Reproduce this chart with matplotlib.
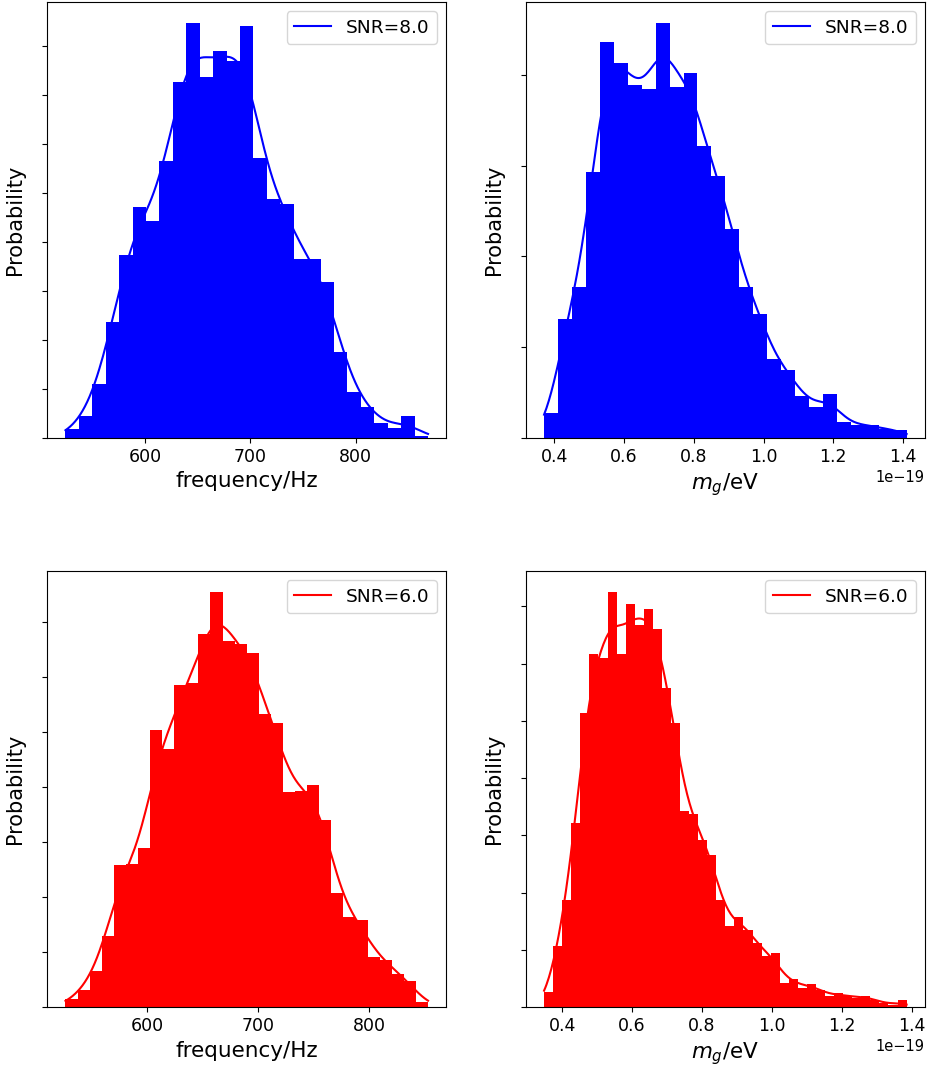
import matplotlib
matplotlib.use("Agg")
import matplotlib.pyplot as plt
import numpy as np
from matplotlib.ticker import MultipleLocator, NullFormatter

# histogram heights (in units of one y tick)
freq_snr8 = [0.19, 0.46, 1.10, 2.38, 3.75, 4.73, 4.43, 5.66, 7.28, 8.48, 7.38, 7.91,
             7.71, 8.42, 5.73, 4.89, 4.79, 3.65, 3.65, 3.18, 1.77, 0.94, 0.63, 0.31,
             0.20, 0.46, 0.05]
freq_snr8_range = (524.0, 869.0)

mg_snr8 = [0.28, 1.31, 1.66, 2.93, 4.36, 4.13, 3.89, 3.84, 4.57, 3.87, 4.02, 3.22,
           2.88, 2.30, 1.66, 1.37, 0.87, 0.75, 0.47, 0.34, 0.49, 0.18, 0.15, 0.14,
           0.10, 0.09]
mg_snr8_range = (0.371e-19, 1.410e-19)

freq_snr6 = [0.15, 0.32, 0.66, 1.30, 2.59, 2.60, 2.90, 5.04, 4.69, 5.86, 5.89, 6.78,
             7.55, 6.66, 6.60, 6.44, 5.33, 5.17, 3.92, 3.93, 4.04, 3.40, 2.08, 1.64,
             1.59, 0.92, 0.86, 0.61, 0.48, 0.10]
freq_snr6_range = (526.6, 853.0)

mg_snr6 = [0.26, 1.07, 1.87, 3.21, 5.14, 6.17, 6.10, 7.25, 6.17, 7.04, 6.67, 6.96,
           6.61, 5.58, 4.96, 3.43, 3.37, 2.92, 2.66, 1.87, 1.42, 1.57, 1.35, 1.13,
           0.90, 0.94, 0.42, 0.49, 0.34, 0.41, 0.30, 0.19, 0.25, 0.19, 0.17, 0.20,
           0.13, 0.07, 0.04, 0.12]
mg_snr6_range = (0.348e-19, 1.386e-19)

# kde bandwidths
bandwidths = [14.0, 0.035e-19, 12.0, 0.028e-19]

panels = [
    (freq_snr8, freq_snr8_range, "b", "SNR=8.0", "frequency/Hz"),
    (mg_snr8, mg_snr8_range, "b", "SNR=8.0", "$m_g$/eV"),
    (freq_snr6, freq_snr6_range, "r", "SNR=6.0", "frequency/Hz"),
    (mg_snr6, mg_snr6_range, "r", "SNR=6.0", "$m_g$/eV"),
]


def kde_from_hist(heights, edges, bw, grid):
    centres = 0.5 * (edges[:-1] + edges[1:])
    mass = np.asarray(heights) * np.diff(edges)
    z = (grid[:, None] - centres[None, :]) / bw
    return (mass[None, :] * np.exp(-0.5 * z ** 2)).sum(axis=1) / (bw * np.sqrt(2 * np.pi))


fig, axes = plt.subplots(2, 2, figsize=(9.28, 10.7), dpi=100)
fig.subplots_adjust(left=0.051, right=0.9965, top=0.998, bottom=0.0586,
                    wspace=0.2, hspace=0.305)

for ax, (heights, rng, color, label, xlabel), bw in zip(axes.flat, panels, bandwidths):
    edges = np.linspace(rng[0], rng[1], len(heights) + 1)
    ax.bar(edges[:-1], heights, width=np.diff(edges), align="edge",
           color=color, linewidth=0)
    grid = np.linspace(rng[0], rng[1], 300)
    ax.plot(grid, kde_from_hist(heights, edges, bw, grid), color=color,
            linewidth=1.5, label=label)
    ax.yaxis.set_major_locator(MultipleLocator(1))
    ax.yaxis.set_major_formatter(NullFormatter())
    ax.tick_params(axis="x", labelsize=12.5)
    ax.xaxis.get_offset_text().set_fontsize(10.5)
    ax.set_xlabel(xlabel, fontsize=15.5)
    ax.set_ylabel("Probability", fontsize=15, labelpad=9)
    ax.legend(loc="upper right", fontsize=13.3)

fig.savefig("out.png", dpi=100)
